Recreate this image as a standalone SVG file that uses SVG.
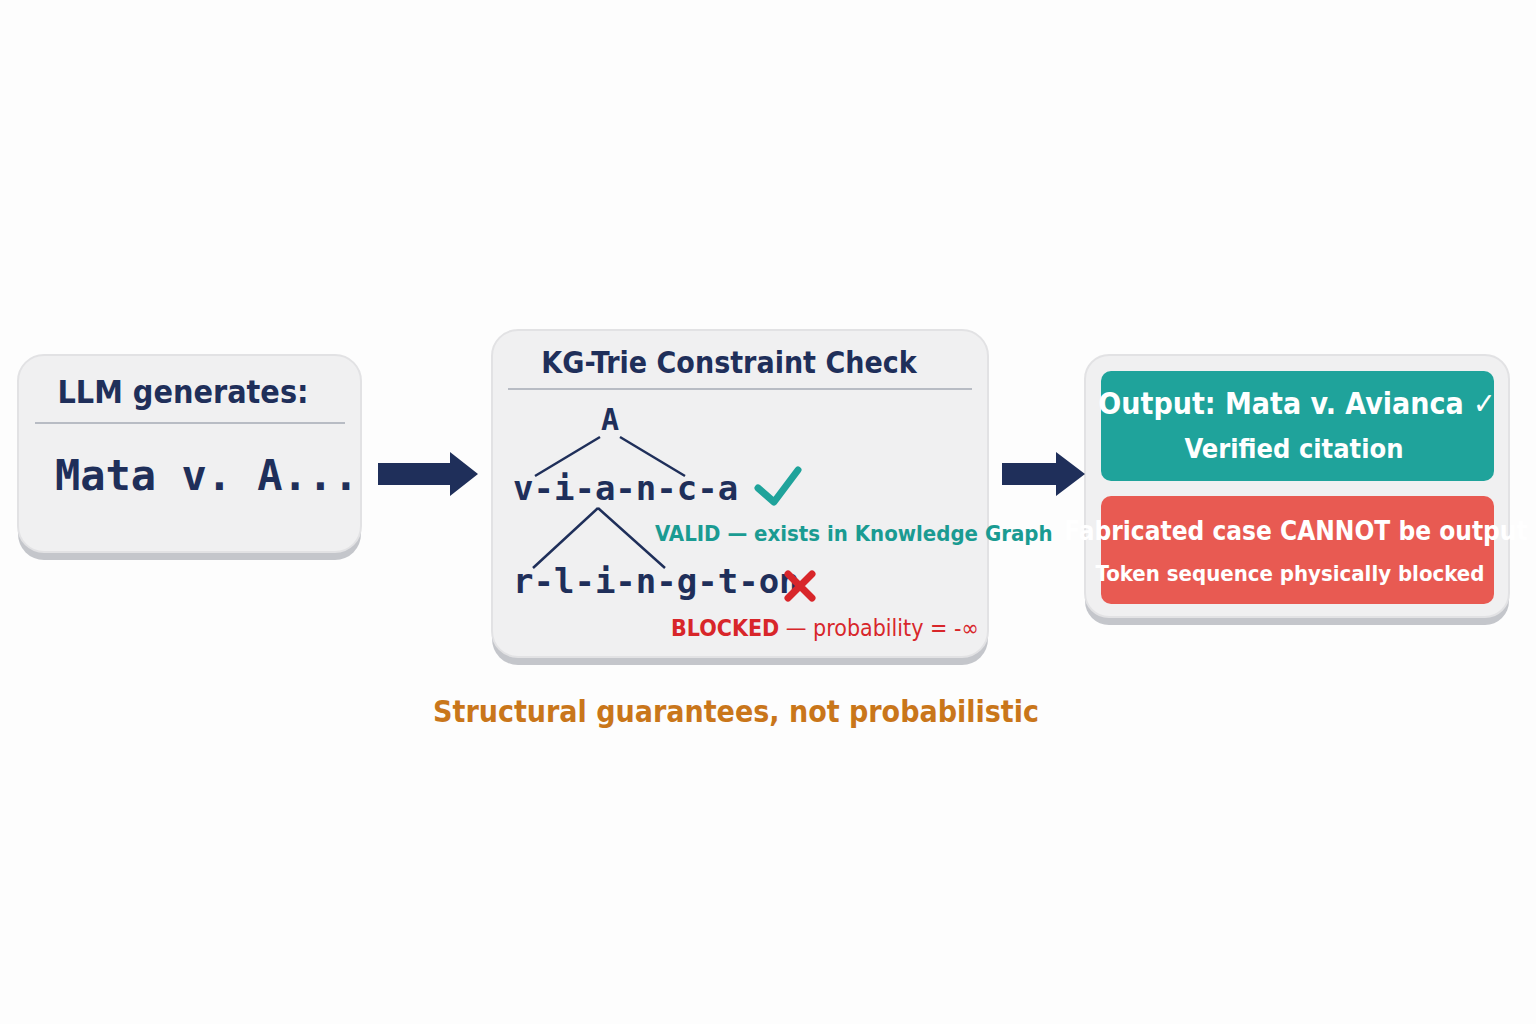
<svg xmlns="http://www.w3.org/2000/svg" width="1536" height="1024" viewBox="0 0 1536 1024">
<style>
.box{fill:#f0f0f1;stroke:#e2e2e4;stroke-width:2}
.sh{fill:#c4c6cb}
.t{font-family:"Liberation Sans Narrow","DejaVu Sans Condensed","Roboto",sans-serif;font-weight:bold}
.m{font-family:"DejaVu Sans Mono","Liberation Mono",monospace;font-weight:bold;fill:#1f2f5a}
.nv{fill:#1f2f5a}
.w{fill:#fff}
.tr{stroke:#1f2f5a;stroke-width:2.5;fill:none}
</style>
<rect width="1536" height="1024" fill="#fdfdfd"/>
<g id="llm">
<rect class="sh" x="18" y="362" width="343" height="198" rx="26"/>
<rect class="box" x="18" y="355" width="343" height="197" rx="26"/>
<text class="t nv" x="183" y="403" font-size="32" text-anchor="middle">LLM generates:</text>
<line x1="35" y1="423" x2="345" y2="423" stroke="#b8bcc4" stroke-width="2"/>
<text class="m" x="55" y="490" font-size="42">Mata v. A...</text>
</g>
<g id="check">
<rect class="sh" x="492" y="337" width="496" height="328" rx="26"/>
<rect class="box" x="492" y="330" width="496" height="327" rx="26"/>
<text class="t nv" x="729" y="373" font-size="30" text-anchor="middle">KG-Trie Constraint Check</text>
<line x1="508" y1="389" x2="972" y2="389" stroke="#b8bcc4" stroke-width="2"/>
<text class="m" x="610" y="430" font-size="30" text-anchor="middle">A</text>
<path class="tr" d="M600 437 L535 476 M620 437 L685 476 M598 508 L533 568 M598 508 L665 568"/>
<text class="m" x="513" y="500" font-size="34">v-i-a-n-c-a</text>
<path d="M758 488 L774 502 L798 470" stroke="#1fa39b" stroke-width="7" fill="none" stroke-linecap="round" stroke-linejoin="round"/>
<text class="t" x="655" y="541" font-size="22" fill="#1a9b92">VALID — exists in Knowledge Graph</text>
<text class="m" x="513" y="593" font-size="34">r-l-i-n-g-t-on</text>
<path d="M788 574 L812 598 M812 574 L788 598" stroke="#d8262a" stroke-width="7" stroke-linecap="round"/>
<text class="t" x="671" y="636" font-size="23" fill="#d8262a">BLOCKED<tspan font-weight="normal"> — probability = -∞</tspan></text>
</g>
<text class="t" x="736" y="722" font-size="30" fill="#c9761a" text-anchor="middle">Structural guarantees, not probabilistic</text>
<g id="output">
<rect class="sh" x="1085" y="362" width="424" height="263" rx="24"/>
<rect class="box" x="1085" y="355" width="424" height="262" rx="24"/>
<rect x="1101" y="371" width="393" height="110" rx="10" fill="#1fa39b"/>
<text class="t w" x="1297" y="414" font-size="30" text-anchor="middle">Output: Mata v. Avianca ✓</text>
<text class="t w" x="1294" y="458" font-size="27" text-anchor="middle">Verified citation</text>
<rect x="1101" y="496" width="393" height="108" rx="10" fill="#e85a52"/>
<text class="t w" x="1296" y="540" font-size="26" text-anchor="middle">Fabricated case CANNOT be output</text>
<text class="t w" x="1290" y="581" font-size="22" text-anchor="middle">Token sequence physically blocked</text>
</g>
<g id="connectors" fill="#1f2f5a">
<path d="M378 463 H450 V452 L478 474 L450 496 V485 H378 Z"/>
<path d="M1002 463 H1056 V452 L1085 474 L1056 496 V485 H1002 Z"/>
</g>
</svg>
